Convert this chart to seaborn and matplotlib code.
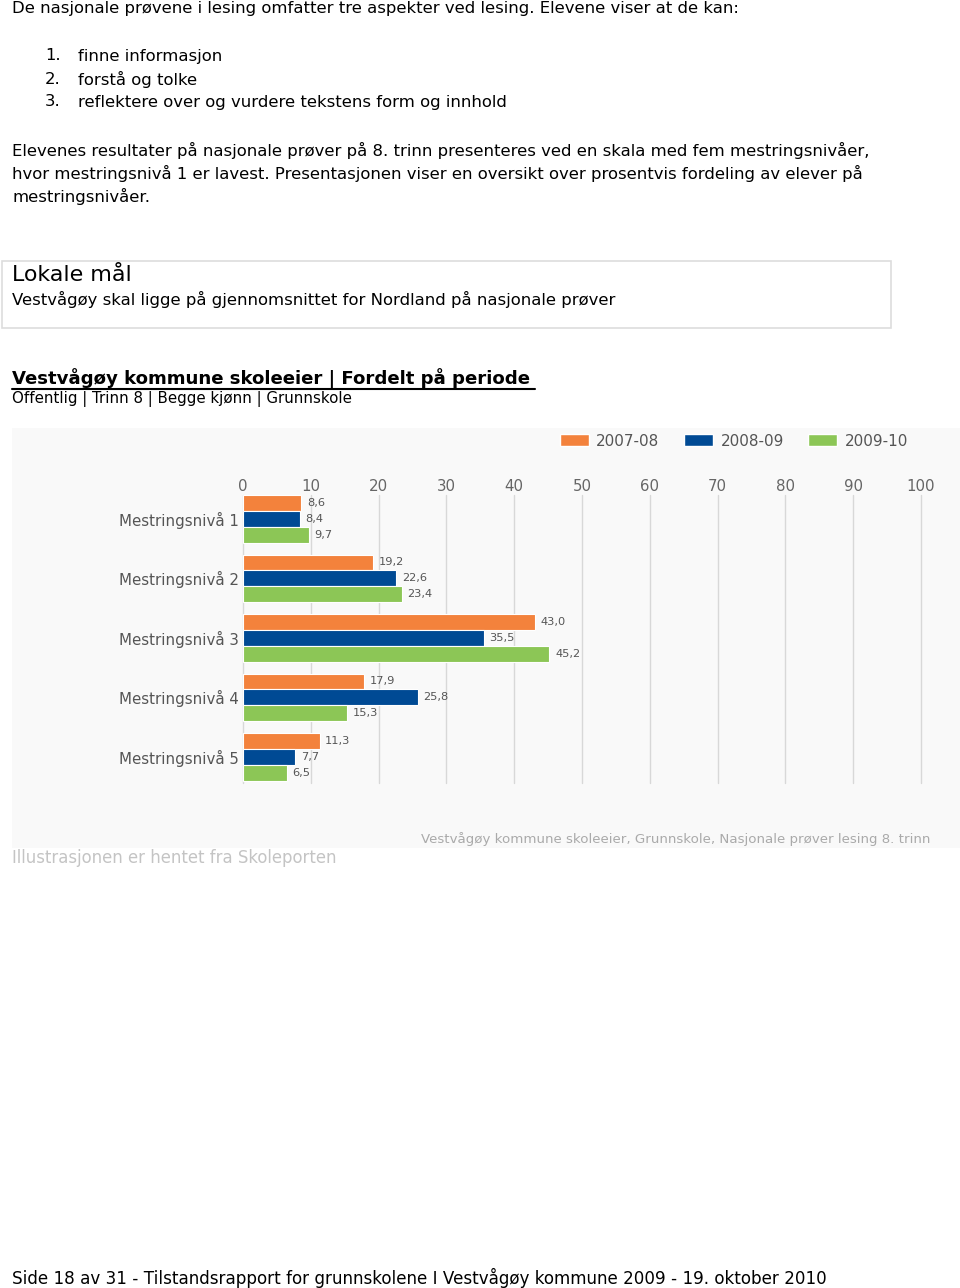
import matplotlib
matplotlib.use("Agg")
import matplotlib.pyplot as plt
import seaborn as sns
import pandas as pd
from matplotlib.patches import Rectangle
from matplotlib.lines import Line2D

# ---- data ----
categories = ["Mestringsnivå 1", "Mestringsnivå 2", "Mestringsnivå 3",
              "Mestringsnivå 4", "Mestringsnivå 5"]
periods = ["2007-08", "2008-09", "2009-10"]
v_2007_08 = [8.6, 19.2, 43.0, 17.9, 11.3]
v_2008_09 = [8.4, 22.6, 35.5, 25.8, 7.7]
v_2009_10 = [9.7, 23.4, 45.2, 15.3, 6.5]
x_ticks = [0, 10, 20, 30, 40, 50, 60, 70, 80, 90, 100]
colors = ["#F3823C", "#004A94", "#8CC656"]

series = [v_2007_08, v_2008_09, v_2009_10]
df = pd.DataFrame({
    "Nivå": [c for s in series for c in categories],
    "Periode": [p for p, s in zip(periods, series) for _ in s],
    "Prosent": [v for s in series for v in s],
})

sns.set_theme(style="white")
plt.rcParams['font.family'] = ['DejaVu Sans']

W, H = 960, 1288
fig = plt.figure(figsize=(W / 100, H / 100), dpi=100)
fig.patch.set_facecolor("white")

BODY = 11.85


def P(x, y):
    return x / W, 1 - y / H


def T(x, y, s, **kw):
    kw.setdefault("fontsize", BODY)
    kw.setdefault("color", "black")
    kw.setdefault("va", "center")
    fig.text(*P(x, y), s, **kw)


# ---- page text ----
T(12, 8, "De nasjonale prøvene i lesing omfatter tre aspekter ved lesing. Elevene viser at de kan:")
for i, (yy, s) in enumerate(zip([56, 79, 102],
                                ["finne informasjon", "forstå og tolke",
                                 "reflektere over og vurdere tekstens form og innhold"])):
    T(45, yy, f"{i + 1}.")
    T(78, yy, s)
T(12, 150, "Elevenes resultater på nasjonale prøver på 8. trinn presenteres ved en skala med fem mestringsnivåer,")
T(12, 173, "hvor mestringsnivå 1 er lavest. Presentasjonen viser en oversikt over prosentvis fordeling av elever på")
T(12, 196, "mestringsnivåer.")

# Lokale mål box
fig.patches.append(Rectangle(P(2, 328), 889 / W, 67 / H, transform=fig.transFigure,
                             facecolor="white", edgecolor="#dddddd", lw=1.2, zorder=-2))
T(12, 275, "Lokale mål", fontsize=15.9)
T(12, 299, "Vestvågøy skal ligge på gjennomsnittet for Nordland på nasjonale prøver")

# Chart title
T(12, 378, "Vestvågøy kommune skoleeier | Fordelt på periode", fontsize=13.05, fontweight="bold")
fig.lines.append(Line2D([12 / W, 535 / W], [1 - 389 / H, 1 - 389 / H],
                        transform=fig.transFigure, color="black", lw=1.5))
T(12, 399, "Offentlig | Trinn 8 | Begge kjønn | Grunnskole", fontsize=10.8)

# chart background panel
fig.patches.append(Rectangle(P(12, 848), 948 / W, 420 / H, transform=fig.transFigure,
                             facecolor="#f9f9f9", edgecolor="none", zorder=-2))

# ---- chart ----
ax = fig.add_axes([243 / W, 1 - 783 / H, (921 - 243) / W, (783 - 495) / H])
ax.set_zorder(1)
ax.set_facecolor("none")
sns.barplot(data=df, y="Nivå", x="Prosent", hue="Periode", order=categories,
            hue_order=periods, palette=colors, orient="h", width=0.8,
            saturation=1, errorbar=None, ax=ax, zorder=3)

ax.set_xlim(0, 100)
ax.set_ylim(4.44, -0.4)
ax.set_xticks(x_ticks)
ax.set_xticklabels([str(t) for t in x_ticks])
ax.xaxis.tick_top()
ax.tick_params(axis="x", length=0, pad=1, labelsize=10.8, labelcolor="#666666")
ax.tick_params(axis="y", length=0, pad=3, labelsize=10.8, labelcolor="#555555")
ax.grid(axis="x", color="#d8d8d8", lw=1, zorder=0)
for gl in ax.get_xgridlines():
    gl.set_clip_on(False)
ax.grid(axis="y", visible=False)
for sp in ax.spines.values():
    sp.set_visible(False)
ax.set_xlabel("")
ax.set_ylabel("")

for cont, vals in zip(ax.containers, series):
    for bar in cont:
        bar.set_edgecolor("white")
        bar.set_linewidth(0.8)
    ax.bar_label(cont, labels=[f"{v:.1f}".replace(".", ",") for v in vals],
                 padding=4, fontsize=8.2, color="#555555")

handles, labels = ax.get_legend_handles_labels()
ax.legend_.remove()
fig.legend(handles, labels, loc="center", bbox_to_anchor=P(734, 441), ncol=3,
           frameon=False, fontsize=11, handlelength=1.9, handleheight=0.8,
           columnspacing=1.6, handletextpad=0.5, labelcolor="#555555")

T(930, 839, "Vestvågøy kommune skoleeier, Grunnskole, Nasjonale prøver lesing 8. trinn",
  fontsize=9.6, color="#aaaaaa", ha="right")
T(12, 858, "Illustrasjonen er hentet fra Skoleporten", fontsize=11.9, color="#c4c4c4")

T(12, 1278, "Side 18 av 31 - Tilstandsrapport for grunnskolene I Vestvågøy kommune 2009 - 19. oktober 2010",
  fontsize=12.05)

fig.savefig("out.png", dpi=100)
